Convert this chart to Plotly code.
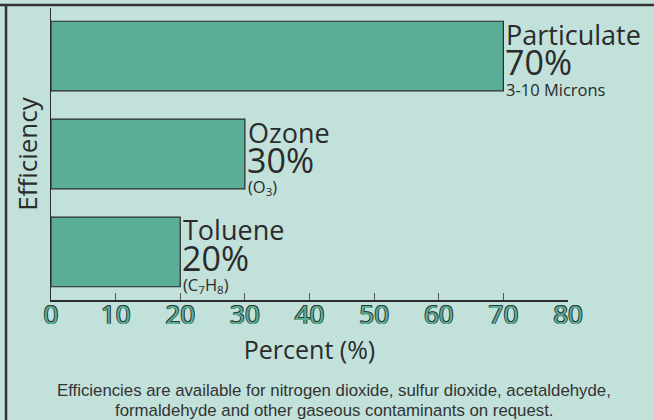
import plotly.graph_objects as go

# ---- data ----
categories = ["Toluene", "Ozone", "Particulate"]
values = [20, 30, 70]
value_labels = ["20%", "30%", "70%"]
notes = ["(C<sub>7</sub>H<sub>8</sub>)", "(O<sub>3</sub>)", "3-10 Microns"]
x_ticks = [0, 10, 20, 30, 40, 50, 60, 70, 80]
x_title = "Percent (%)"
y_title = "Efficiency"
footnote_lines = [
    "Efficiencies are available for nitrogen dioxide, sulfur dioxide, acetaldehyde,",
    "formaldehyde and other gaseous contaminants on request.",
]

BG = "#c1e1da"
BAR = "#5aae97"
DARK = "#2b2b2b"
FONT = "Open Sans"

fig = go.Figure()
fig.add_trace(go.Bar(
    y=categories, x=values, orientation="h",
    marker=dict(color=BAR, line=dict(color=DARK, width=1.2)),
    width=0.71, hoverinfo="skip",
))

annotations = []
for cat, val, pl, note in zip(categories, values, value_labels, notes):
    annotations.append(dict(x=val, y=cat, xref="x", yref="y", text=cat,
                            showarrow=False, xanchor="left", yanchor="middle",
                            xshift=1, yshift=22,
                            font=dict(family=FONT, size=27, color=DARK)))
    annotations.append(dict(x=val, y=cat, xref="x", yref="y", text=pl,
                            showarrow=False, xanchor="left", yanchor="middle",
                            xshift=0, yshift=-6,
                            font=dict(family=FONT, size=34, color=DARK)))
    annotations.append(dict(x=val, y=cat, xref="x", yref="y", text=note,
                            showarrow=False, xanchor="left", yanchor="middle",
                            xshift=1, yshift=-33,
                            font=dict(family=FONT, size=16.5, color=DARK)))

for line, ypos in zip(footnote_lines, [-0.3116, -0.3801]):
    annotations.append(dict(x=0.547, y=ypos, xref="paper", yref="paper", text=line,
                            showarrow=False, xanchor="center", yanchor="middle",
                            font=dict(family="Liberation Sans, Arial", size=16.8,
                                      color="#333333")))

oc = "#2b3b36"
d = "0.75px"
outline = (f"-{d} -{d} 0 {oc}, {d} -{d} 0 {oc}, -{d} {d} 0 {oc}, {d} {d} 0 {oc}")

fig.update_layout(
    width=654, height=420,
    margin=dict(l=51, r=86, t=8, b=120),
    paper_bgcolor=BG, plot_bgcolor=BG,
    showlegend=False,
    bargap=0.29,
    annotations=annotations,
    xaxis=dict(
        range=[0, 80], tickvals=x_ticks, ticktext=[str(t) for t in x_ticks],
        showgrid=False, zeroline=False, automargin=False,
        showline=True, linecolor=DARK, linewidth=1.5,
        ticks="inside", ticklen=7, tickwidth=1, tickcolor="#555555",
        ticklabelstandoff=-9,
        tickfont=dict(family=FONT, size=26, color=BAR, shadow=outline),
        title=dict(text=x_title, font=dict(family=FONT, size=25, color=DARK), standoff=9),
        fixedrange=True,
    ),
    yaxis=dict(
        categoryorder="array", categoryarray=categories,
        range=[-0.49, 2.49], automargin=False,
        showticklabels=False, showgrid=False, zeroline=False,
        showline=True, linecolor=DARK, linewidth=1.5, ticks="",
        title=dict(text=y_title, font=dict(family=FONT, size=26, color=DARK), standoff=4),
        fixedrange=True,
    ),
    shapes=[
        dict(type="line", xref="paper", yref="paper", x0=-0.2, x1=1.3,
             y0=1.0103, y1=1.0103, line=dict(color="#333333", width=2.5)),
        dict(type="line", xref="paper", yref="paper", x0=-0.0870, x1=-0.0870,
             y0=1.0103, y1=-0.5, line=dict(color="#333333", width=2.5)),
    ],
)

fig.write_html(
    "out.html",
    config={"displayModeBar": False, "staticPlot": True},
    post_script="document.body.style.margin='0';document.body.style.overflow='hidden';",
)
